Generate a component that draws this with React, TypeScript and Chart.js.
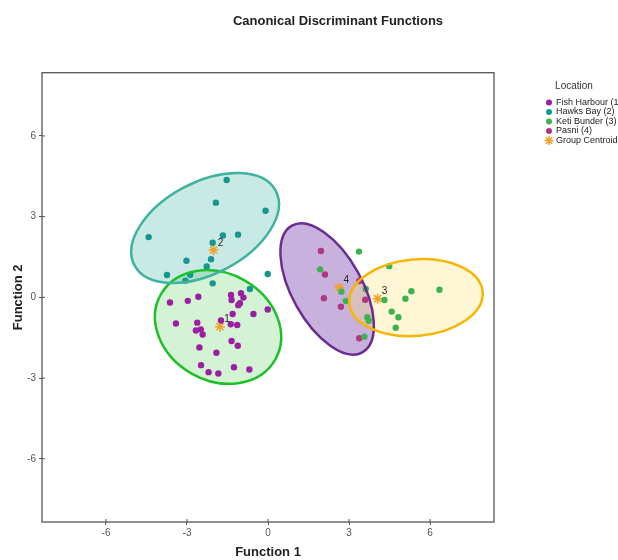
import { useEffect, useRef } from "react";
import { Chart, registerables } from "chart.js";
Chart.register(...registerables);

const groupNames = ["Fish Harbour (1)", "Hawks Bay (2)", "Keti Bunder (3)", "Pasni (4)"];
const groupColors = ["#9c1fa3", "#16978d", "#3db24d", "#b0377f"];
const centroidName = "Group Centroid";
const centroidColor = "#f2a02a";

const fishHarbourX = [-3.63, -2.97, -2.58, -1.37, -1.0, -1.35, -0.91, -1.04, -1.1, -0.01, -1.31, -0.54, -3.41, -2.62, -1.74, -1.38, -1.14, -2.67, -2.49, -2.42, -1.35, -1.12, -2.54, -1.91, -2.48, -1.26, -0.69, -2.2, -1.84];
const fishHarbourY = [-0.19, -0.13, 0.02, 0.09, 0.15, -0.1, -0.01, -0.22, -0.29, -0.45, -0.62, -0.62, -0.97, -0.94, -0.86, -1.0, -1.03, -1.23, -1.19, -1.38, -1.62, -1.8, -1.86, -2.06, -2.52, -2.6, -2.68, -2.78, -2.83];

const hawksBayX = [-1.53, -1.93, -0.09, -4.42, -1.67, -1.11, -2.05, -2.11, -3.02, -2.27, -3.74, -3.06, -2.88, -0.01, -2.05, -0.67];
const hawksBayY = [4.36, 3.52, 3.22, 2.24, 2.3, 2.33, 2.03, 1.42, 1.36, 1.15, 0.83, 0.62, 0.84, 0.87, 0.52, 0.31];

const ketiBunderX = [3.37, 1.93, 2.72, 2.88, 3.62, 3.68, 3.73, 3.57, 4.49, 4.31, 5.31, 5.09, 6.35, 4.58, 4.83, 4.73];
const ketiBunderY = [1.7, 1.04, 0.21, -0.13, 0.31, -0.74, -0.87, -1.46, 1.16, -0.1, 0.23, -0.05, 0.28, -0.53, -0.74, -1.13];

const pasniX = [1.96, 2.11, 2.07, 2.7, 3.38, 3.6, 3.38];
const pasniY = [1.72, 0.85, -0.03, -0.35, 0.61, -0.09, -1.52];

const centroidX = [-1.78, -2.02, 4.06, 2.64];
const centroidY = [-1.09, 1.76, -0.05, 0.36];
const centroidLabels = ["1", "2", "3", "4"];

const tickValues = [-6, -3, 0, 3, 6];

// group region ellipses (data units): centre, semi-axes, rotation
const regions = [
  { cx: -1.85, cy: -1.1, a: 2.44, b: 1.99, angle: -30, fill: "rgba(60,200,60,0.22)", stroke: "#1fbf2a" },
  { cx: -2.33, cy: 2.58, a: 2.96, b: 1.7, angle: 28, fill: "rgba(60,175,160,0.28)", stroke: "#3db3a0" },
  { cx: 2.19, cy: 0.31, a: 2.69, b: 1.3, angle: -61, fill: "rgba(120,60,170,0.4)", stroke: "#6b2d90" },
  { cx: 5.48, cy: -0.01, a: 2.48, b: 1.42, angle: 5, fill: "rgba(255,225,120,0.3)", stroke: "#f7b500" },
];

const FONT = "'Liberation Sans', Arial, sans-serif";

const toPoints = (xs: number[], ys: number[]) => xs.map((x, i) => ({ x, y: ys[i] }));

const ellipsePath = (chart: any, r: any) => {
  const { ctx } = chart;
  const xs = chart.scales.x;
  const ys = chart.scales.y;
  const sx = xs.getPixelForValue(1) - xs.getPixelForValue(0);
  const sy = ys.getPixelForValue(0) - ys.getPixelForValue(1);
  ctx.save();
  ctx.translate(xs.getPixelForValue(r.cx), ys.getPixelForValue(r.cy));
  ctx.scale(sx, -sy);
  ctx.rotate((r.angle * Math.PI) / 180);
  ctx.beginPath();
  ctx.ellipse(0, 0, r.a, r.b, 0, 0, Math.PI * 2);
  ctx.restore();
};

const decorPlugin = {
  id: "decor",
  beforeDatasetsDraw(chart: any) {
    const { ctx, chartArea } = chart;
    ctx.save();
    ctx.beginPath();
    ctx.rect(chartArea.left, chartArea.top, chartArea.right - chartArea.left, chartArea.bottom - chartArea.top);
    ctx.clip();
    regions.forEach((r) => {
      ellipsePath(chart, r);
      ctx.fillStyle = r.fill;
      ctx.fill();
    });
    ctx.restore();
  },
  afterDatasetsDraw(chart: any) {
    const { ctx, chartArea } = chart;
    const xs = chart.scales.x;
    const ys = chart.scales.y;
    ctx.save();
    ctx.beginPath();
    ctx.rect(chartArea.left, chartArea.top, chartArea.right - chartArea.left, chartArea.bottom - chartArea.top);
    ctx.clip();
    regions.forEach((r) => {
      ellipsePath(chart, r);
      ctx.strokeStyle = r.stroke;
      ctx.lineWidth = 2.5;
      ctx.stroke();
    });
    ctx.restore();

    // centroid labels
    ctx.save();
    ctx.font = `10px ${FONT}`;
    ctx.fillStyle = "#222";
    ctx.textAlign = "center";
    ctx.textBaseline = "middle";
    centroidX.forEach((x, i) => {
      ctx.fillText(centroidLabels[i], xs.getPixelForValue(x) + 7, ys.getPixelForValue(centroidY[i]) - 7);
    });
    ctx.restore();
  },
  afterDraw(chart: any) {
    const { ctx, chartArea } = chart;
    const xs = chart.scales.x;
    const ys = chart.scales.y;
    ctx.save();
    // frame
    ctx.strokeStyle = "#555";
    ctx.lineWidth = 1.3;
    ctx.strokeRect(chartArea.left, chartArea.top, chartArea.right - chartArea.left, chartArea.bottom - chartArea.top);
    // inner tick parts
    ctx.lineWidth = 1;
    ctx.beginPath();
    tickValues.forEach((v) => {
      const px = xs.getPixelForValue(v);
      ctx.moveTo(px, chartArea.bottom);
      ctx.lineTo(px, chartArea.bottom - 3);
      const py = ys.getPixelForValue(v);
      ctx.moveTo(chartArea.left, py);
      ctx.lineTo(chartArea.left + 3, py);
    });
    ctx.stroke();

    // titles
    ctx.fillStyle = "#222";
    ctx.textAlign = "center";
    ctx.textBaseline = "middle";
    ctx.font = `bold 13px ${FONT}`;
    ctx.fillText("Canonical Discriminant Functions", 338, 21);
    ctx.fillText("Function 1", (chartArea.left + chartArea.right) / 2, 552);
    ctx.save();
    ctx.translate(18, (chartArea.top + chartArea.bottom) / 2);
    ctx.rotate(-Math.PI / 2);
    ctx.fillText("Function 2", 0, 0);
    ctx.restore();

    // legend
    ctx.font = `10px ${FONT}`;
    ctx.fillStyle = "#333";
    ctx.fillText("Location", 574, 86);
    ctx.textAlign = "left";
    ctx.font = `9px ${FONT}`;
    const names = [...groupNames, centroidName];
    names.forEach((n, i) => {
      const y = 102.5 + i * 9.5;
      if (i < groupNames.length) {
        ctx.beginPath();
        ctx.arc(549, y, 3, 0, Math.PI * 2);
        ctx.fillStyle = groupColors[i];
        ctx.fill();
      } else {
        ctx.strokeStyle = centroidColor;
        ctx.lineWidth = 1.5;
        ctx.beginPath();
        for (let k = 0; k < 4; k++) {
          const ang = (k * Math.PI) / 4;
          ctx.moveTo(549 - 4.5 * Math.cos(ang), y - 4.5 * Math.sin(ang));
          ctx.lineTo(549 + 4.5 * Math.cos(ang), y + 4.5 * Math.sin(ang));
        }
        ctx.stroke();
      }
      ctx.fillStyle = "#222";
      ctx.fillText(n, 556, y);
    });
    ctx.restore();
  },
};

export default function App() {
  const ref = useRef<HTMLCanvasElement | null>(null);
  useEffect(() => {
    if (!ref.current) return;
    const groupXs = [fishHarbourX, hawksBayX, ketiBunderX, pasniX];
    const groupYs = [fishHarbourY, hawksBayY, ketiBunderY, pasniY];
    const datasets: any[] = groupNames.map((name, i) => ({
      label: name,
      data: toPoints(groupXs[i], groupYs[i]),
      backgroundColor: groupColors[i],
      borderWidth: 0,
      pointRadius: 3.2,
    }));
    datasets.push({
      label: centroidName,
      data: toPoints(centroidX, centroidY),
      pointStyle: "star",
      borderColor: centroidColor,
      backgroundColor: centroidColor,
      borderWidth: 1.6,
      pointRadius: 5,
    });
    const tickCfg = (padding: number) => ({
      font: { family: FONT, size: 10 },
      color: "#555",
      padding,
    });
    const chart = new Chart(ref.current, {
      type: "scatter",
      data: { datasets },
      options: {
        animation: false,
        responsive: false,
        layout: { padding: { left: 0, top: 72.7, right: 124, bottom: 0 } },
        plugins: { legend: { display: false }, tooltip: { enabled: false }, title: { display: false } },
        scales: {
          x: {
            type: "linear",
            min: -8.37,
            max: 8.37,
            afterBuildTicks: (s: any) => {
              s.ticks = tickValues.map((v) => ({ value: v }));
            },
            afterFit: (s: any) => {
              s.height = 38;
            },
            ticks: tickCfg(2),
            grid: { drawOnChartArea: false, drawTicks: true, tickLength: 3, tickColor: "#555" },
            border: { display: false },
          },
          y: {
            type: "linear",
            min: -8.35,
            max: 8.35,
            afterBuildTicks: (s: any) => {
              s.ticks = tickValues.map((v) => ({ value: v }));
            },
            afterFit: (s: any) => {
              s.width = 42;
            },
            ticks: tickCfg(3),
            grid: { drawOnChartArea: false, drawTicks: true, tickLength: 3, tickColor: "#555" },
            border: { display: false },
          },
        },
      } as any,
      plugins: [decorPlugin],
    });
    return () => chart.destroy();
  }, []);
  return (
    <div style={{ position: "fixed", left: 0, top: 0, width: 618, height: 560, background: "#fff" }}>
      <canvas ref={ref} width={618} height={560} style={{ display: "block" }} />
    </div>
  );
}
